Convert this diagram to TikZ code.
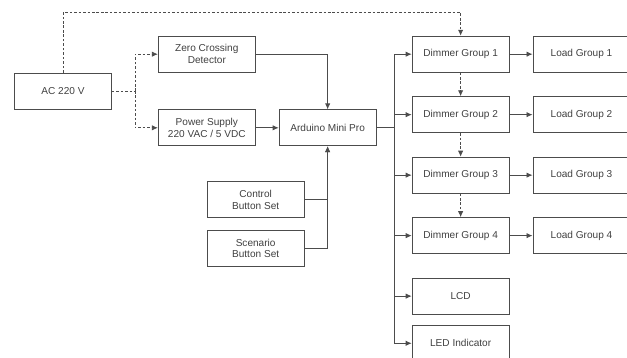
\documentclass[tikz,border=0pt]{standalone}
\usepackage{fontspec}
\setmainfont{Liberation Sans}
\usetikzlibrary{positioning, arrows.meta}

\begin{document}
\begin{tikzpicture}[
  block/.style={rectangle, draw=black!70, line width=0.7pt, minimum width=2.91cm, minimum height=1.08cm, align=center, inner sep=1pt},
  line/.style={draw=black!70, line width=0.7pt},
  arrow/.style={line, -{Latex[length=1.8mm, width=1.6mm]}},
  dashline/.style={line, dash pattern=on 2.2pt off 1.6pt},
  dasharrow/.style={dashline, -{Latex[length=1.8mm, width=1.6mm]}},
  every node/.style={font=\fontsize{8.6}{10}\selectfont, text=black!75}
]
\useasboundingbox (0,0) rectangle (18.81,-10.74);

% === ALIMENTAZIONE ===
\node[block] (acIn) at (1.89,-2.73) {AC 220 V};
\node[block, above right=0cm and 1.38cm of acIn] (zeroCross) {Zero Crossing\\Detector};
\node[block, below right=0cm and 1.38cm of acIn] (supply) {Power Supply\\220 VAC / 5 VDC};

% === CONTROLLORE ===
\node[block, right=0.69cm of supply] (arduino) {Arduino Mini Pro};
\node[block, below=1.05cm of arduino, xshift=-2.16cm] (control) {Control\\Button Set};
\node[block, below=0.36cm of control] (scenario) {Scenario\\Button Set};

% === DIMMER E CARICHI ===
\node[block, right=4.68cm of zeroCross] (dimmer1) {Dimmer Group 1};
\node[block, below=0.71cm of dimmer1] (dimmer2) {Dimmer Group 2};
\node[block, below=0.71cm of dimmer2] (dimmer3) {Dimmer Group 3};
\node[block, below=0.71cm of dimmer3] (dimmer4) {Dimmer Group 4};
\node[block, below=0.71cm of dimmer4] (lcd) {LCD};
\node[block, below=0.31cm of lcd] (led) {LED Indicator};
\foreach \i in {1,...,4}
  \node[block, right=0.69cm of dimmer\i] (load\i) {Load Group \i};

% === COLLEGAMENTI AC ===
\coordinate[right=0.69cm of acIn] (acSplit);
\coordinate[above=1.8cm of acIn] (acTop);
\draw[dashline] (acIn) -- (acSplit);
\draw[dasharrow] (acSplit) |- (zeroCross);
\draw[dasharrow] (acSplit) |- (supply);
\draw[dasharrow] (acIn) -- (acTop) -| (dimmer1);

% === INGRESSI ARDUINO ===
\draw[arrow] (zeroCross) -| (arduino);
\draw[arrow] (supply) -- (arduino);
\draw[arrow] (control) -| (arduino);
\draw[arrow] (scenario) -| (arduino);

% === USCITE ARDUINO ===
\coordinate[right=0.54cm of arduino] (bus);
\foreach \t in {dimmer1, dimmer2, dimmer3, dimmer4, lcd, led}
  \draw[arrow] (arduino) -- (bus) |- (\t);

% === CATENA DIMMER ===
\draw[dasharrow] (dimmer1) -- (dimmer2);
\draw[dasharrow] (dimmer2) -- (dimmer3);
\draw[dasharrow] (dimmer3) -- (dimmer4);
\foreach \i in {1,...,4}
  \draw[arrow] (dimmer\i) -- (load\i);

\end{tikzpicture}
\end{document}
